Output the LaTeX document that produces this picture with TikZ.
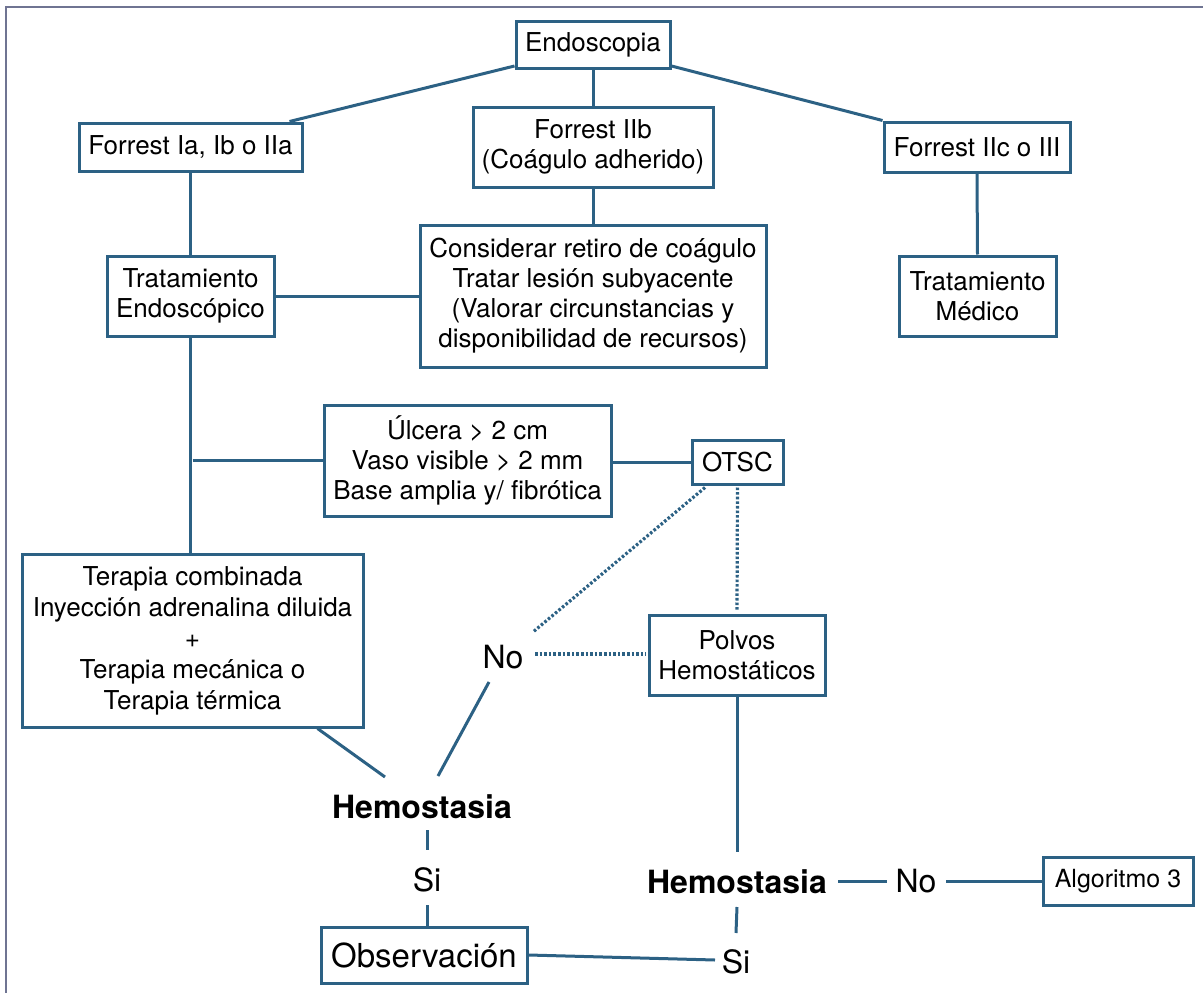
\documentclass[tikz,border=0pt]{standalone}
\usepackage{fontspec}
\setmainfont{TeX Gyre Heros}
\usetikzlibrary{calc}
\definecolor{ln}{HTML}{2C6184}
\definecolor{frm}{HTML}{6F7492}
\tikzset{
  bx/.style={draw=ln, line width=3pt, fill=white, align=center, inner sep=0pt,
    font=\fontsize{26}{30}\selectfont},
  lbl/.style={inner sep=0pt, font=\fontsize{32}{36}\selectfont},
  hem/.style={inner sep=0pt, font=\fontsize{32}{36}\selectfont\bfseries},
  con/.style={draw=ln, line width=3pt},
  dots/.style={draw=ln, line width=3.2pt, dash pattern=on 2.6pt off 2pt},
}
\begin{document}
\begin{tikzpicture}[x=1pt,y=-1pt]
\useasboundingbox (0,0) rectangle (1203,993);
\draw[frm, line width=2pt] (6,993) -- (6,7) -- (1203,7);

\node[bx, minimum width=154pt, minimum height=47pt] (endo) at (593,44.5) {Endoscopia};
\node[bx, minimum width=223pt, minimum height=48pt] (f1) at (190.5,147) {Forrest Ia, Ib o IIa};
\node[bx, minimum width=240pt, minimum height=80pt] (f2) at (593,147) {Forrest IIb\\(Coágulo adherido)};
\node[bx, minimum width=186pt, minimum height=50pt] (f3) at (977,147) {Forrest IIc o III};
\node[bx, minimum width=167pt, minimum height=80pt] (te) at (190.5,296) {Tratamiento\\Endoscópico};
\node[bx, minimum width=346pt, minimum height=142pt] (cons) at (593,296) {Considerar retiro de coágulo\\Tratar lesión subyacente\\(Valorar circunstancias y\\disponibilidad de recursos)};
\node[bx, minimum width=157pt, minimum height=80pt] (tm) at (977.5,296) {Tratamiento\\Médico};
\node[bx, minimum width=287pt, minimum height=111pt] (ulc) at (467.5,460.5) {Úlcera > 2 cm\\Vaso visible > 2 mm\\Base amplia y/ fibrótica};
\node[bx, minimum width=91pt, minimum height=44pt] (otsc) at (737.5,462) {OTSC};
\node[bx, minimum width=341pt, minimum height=173pt, font=\fontsize{26}{31}\selectfont] (ter) at (192.5,640.5) {Terapia combinada\\Inyección adrenalina diluida\\+\\Terapia mecánica o\\Terapia térmica};
\node[lbl] (no1) at (503,657) {No};
\node[bx, minimum width=176pt, minimum height=80pt] (pol) at (737,655) {Polvos\\Hemostáticos};
\node[hem] (hem1) at (422,807) {Hemostasia};
\node[lbl] (si1) at (427,880) {Si};
\node[bx, minimum width=206pt, minimum height=56pt, font=\fontsize{33}{36}\selectfont] (obs) at (424,955) {Observación};
\node[hem] (hem2) at (737,882) {Hemostasia};
\node[lbl] (si2) at (736,962) {Si};
\node[lbl] (no2) at (916,881) {No};
\node[bx, minimum width=150pt, minimum height=48pt, font=\fontsize{25}{30}\selectfont] (alg) at (1118,881) {Algoritmo 3};

% top tree
\draw[con] ([yshift=3.5pt]endo.south west) -- ([xshift=99pt]f1.north);
\draw[con] (endo.south) -- (f2.north);
\draw[con] ([yshift=3.5pt]endo.south east) -- (f3.north west);
\draw[con] (f1.south) -- (te.north);
\draw[con] (f2.south) -- (cons.north);
\draw[con] (f3.south) -- (tm.north);
\draw[con] (te.east) -- (cons.west);
\draw[con] (te.south) -- (te.south |- ter.north);
\coordinate (br) at (te.south |- ulc.west);
\draw[con] ([xshift=2pt]br) -- (ulc.west);
\draw[con] (ulc.east |- otsc.west) -- (otsc.west);

% dotted
\draw[dots] ([xshift=-32.5pt,yshift=-2pt]otsc.south) -- ([xshift=30pt,yshift=25pt]no1.center);
\draw[dots] ([yshift=-2pt]otsc.south) -- ([yshift=2pt]pol.north);
\draw[dots] ([xshift=32pt,yshift=3pt]no1.center) -- ([xshift=-2pt,yshift=1pt]pol.west);

% left hemostasia
\draw[con] ([xshift=-47pt]ter.south east) -- ([xshift=-37pt,yshift=30pt]hem1.center);
\draw[con] ([xshift=-14pt,yshift=-25pt]no1.center) -- ([xshift=16pt,yshift=31pt]hem1.center);
\draw[con] ([xshift=5pt,yshift=-23pt]hem1.center) -- ([yshift=30pt]si1.center);
\draw[con] ([yshift=-25pt]si1.center) -- (si1.center |- obs.north);
\draw[con] (obs.east) -- ([xshift=-21pt,yshift=2pt]si2.center);

% right hemostasia
\draw[con] (pol.south) -- ([yshift=30pt]hem2.center);
\draw[con] ([yshift=-25pt]hem2.center) -- ([yshift=29pt]si2.center);
\draw[con] ([xshift=101pt,yshift=1pt]hem2.center) -- ([xshift=-29pt]no2.center);
\draw[con] ([xshift=30pt]no2.center) -- (alg.west);
\end{tikzpicture}
\end{document}
